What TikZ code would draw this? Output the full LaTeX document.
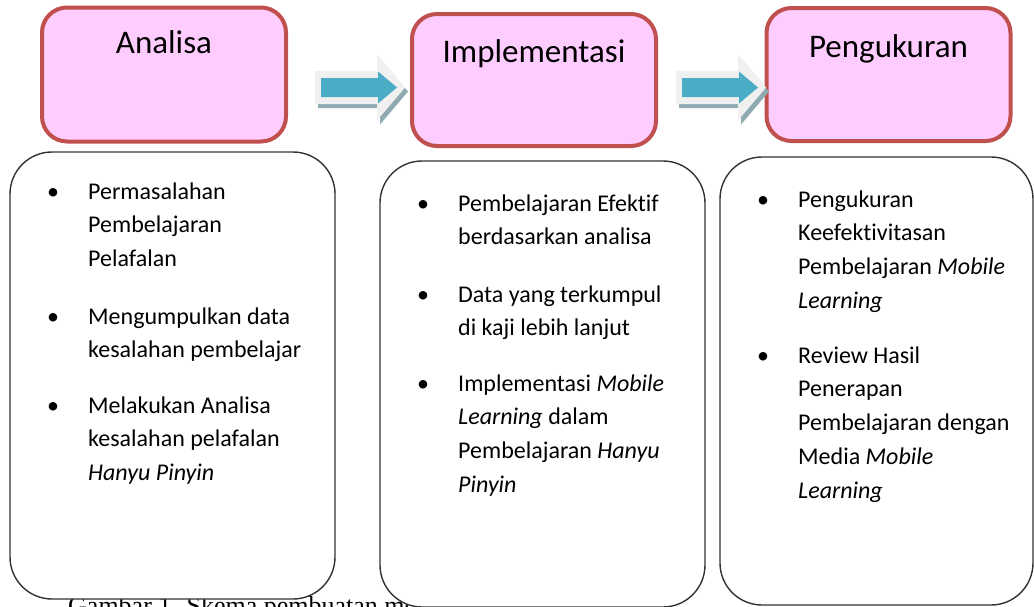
\documentclass[tikz,border=0pt]{standalone}
\usepackage{fontspec}
\setmainfont{Carlito}[Ligatures=NoCommon]
\newfontfamily\capfont{Liberation Serif}
\usetikzlibrary{positioning}

\definecolor{pinkfill}{HTML}{FFCCFF}
\definecolor{redline}{HTML}{C0504D}
\definecolor{arrowblue}{HTML}{4BACC6}
\definecolor{arrowface}{HTML}{F0F0F0}
\definecolor{arrowshade}{HTML}{8FAAB0}

\newcommand\listfont{\fontsize{24}{33.8}\selectfont\spaceskip=\fontdimen2\font\relax}

\tikzstyle{phase} = [draw=redline, line width=4pt, fill=pinkfill, rectangle,
    rounded corners=25pt, minimum width=244pt, minimum height=134pt, inner sep=0pt]
\tikzstyle{title} = [anchor=base, inner sep=0pt, font=\fontsize{33}{40}\selectfont]
\tikzstyle{panel} = [draw=black!80, line width=1.4pt, fill=white, rectangle,
    rounded corners=42pt, inner sep=0pt]
\tikzstyle{item} = [anchor=base west, inner sep=0pt, text width=230pt, align=flush left,
    font=\listfont]
\tikzstyle{dot} = [anchor=base, inner sep=0pt, font=\fontsize{24}{30}\selectfont]
\tikzstyle{caption} = [anchor=base west, inner sep=0pt, font=\capfont\fontsize{26}{30}\selectfont]

\begin{document}
\begin{tikzpicture}[x=1pt, y=-1pt]
    \useasboundingbox (0,0) rectangle (1034,606);
    \node [caption] (cap) at (68,614) {Gambar 1. Skema pembuatan mo};

    % lower panels
    \node [panel, minimum width=325pt, minimum height=447pt] (list1) at (172.5,375.5) {};
    \node [panel, minimum width=325pt, minimum height=446pt] (list2) at (542.5,384) {};
    \node [panel, minimum width=313pt, minimum height=448pt] (list3) at (876.5,381) {};

    % phase boxes
    \node [phase] (ana) at (164,74.5) {};
    \node [phase, minimum height=132pt] (impl) at (534,80) {};
    \node [phase, minimum height=133pt] (ukur) at (888.5,74.5) {};
    \node [title] (tana) at ([yshift=-48pt]ana.north) {Analisa};
    \node [title] (timpl) at ([yshift=-50pt]impl.north) {Implementasi};
    \node [title] (tukur) at ([yshift=-51pt]ukur.north) {Pengukuran};

    % block arrows
    \foreach \dx in {0,361} {
        \begin{scope}[shift={(\dx,0)}]
            \fill [arrowshade] (318,75) -- (380,75) -- (380,58.5) -- (408,91.5)
                -- (380,124.5) -- (380,108) -- (318,108) -- cycle;
            \fill [arrowface] (315,71) -- (377,71) -- (377,54.5) -- (405,87.5)
                -- (377,120.5) -- (377,104) -- (315,104) -- cycle;
            \fill [arrowblue] (321,78) -- (378,78) -- (378,71.5) -- (397,87.5)
                -- (378,103.5) -- (378,97) -- (321,97) -- cycle;
        \end{scope}
    }

    % bullets
    \foreach \x/\y [count=\i] in {53/199, 53/324, 53/413, 423/211, 423/302, 423/391, 763/207, 763/363}
        \node [dot] (dot\i) at (\x,\y) {\textbullet};

    \node [item] (a1) at (88,199) {Permasalahan\\Pembelajaran\\Pelafalan};
    \node [item] (a2) at (88,324) {Mengumpulkan data\\kesalahan pembelajar};
    \node [item] (a3) at (88,413) {Melakukan Analisa\\kesalahan pelafalan\\\textit{Hanyu Pinyin}};

    \node [item] (b1) at (458,211) {Pembelajaran Efektif\\berdasarkan analisa};
    \node [item] (b2) at (458,302) {Data yang terkumpul\\di kaji lebih lanjut};
    \node [item] (b3) at (458,391) {Implementasi \textit{Mobile}\\\textit{Learning} dalam\\Pembelajaran \textit{Hanyu}\\\textit{Pinyin}};

    \node [item] (c1) at (798,207) {Pengukuran\\Keefektivitasan\\Pembelajaran \textit{Mobile}\\\textit{Learning}};
    \node [item] (c2) at (798,363) {Review Hasil\\Penerapan\\Pembelajaran dengan\\Media \textit{Mobile}\\\textit{Learning}};
\end{tikzpicture}
\end{document}
